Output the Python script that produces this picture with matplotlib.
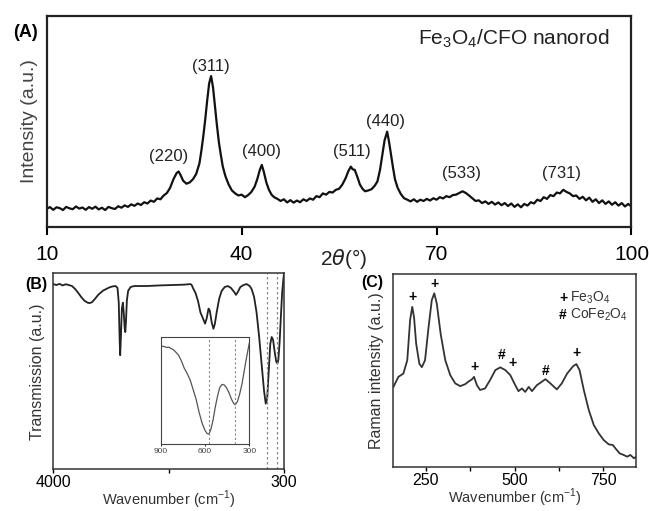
import numpy as np
import matplotlib
matplotlib.use("Agg")
import matplotlib.pyplot as plt

plt.rcParams["font.family"] = ["Liberation Sans", "DejaVu Sans"]
plt.rcParams["mathtext.fontset"] = "custom"
plt.rcParams["mathtext.rm"] = "Liberation Sans"
plt.rcParams["mathtext.it"] = "DejaVu Sans:italic"

# ---- (A) XRD pattern ----
xrd_2theta = [
    10.0, 10.5, 11.0, 11.5, 12.0, 12.5, 13.0, 13.5, 14.0, 14.5, 15.0, 15.5, 16.0, 16.5,
    17.0, 17.5, 18.0, 18.5, 19.0, 19.5, 20.0, 20.5, 21.0, 21.5, 22.0, 22.5, 23.0, 23.5,
    24.0, 24.5, 25.0, 25.5, 26.0, 26.5, 27.0, 27.5, 28.0, 28.5, 29.0, 29.5,
    30.0, 30.3, 30.6, 31.0, 31.5, 32.0, 32.5, 33.0, 33.5, 33.8, 34.1, 34.4, 34.7, 35.0,
    35.3, 35.6, 35.9, 36.2, 36.5, 36.8, 37.1, 37.5, 38.0, 38.5, 39.0, 39.5, 40.0, 40.5,
    41.0, 41.5, 42.0, 42.4, 42.8, 43.1, 43.4, 43.8, 44.2, 44.6, 45.0, 45.5, 46.0, 46.5,
    47.0, 47.5, 48.0, 48.5, 49.0, 49.5, 50.0, 50.5, 51.0, 51.5, 52.0, 52.5, 53.0, 53.5,
    54.0, 54.5, 55.0, 55.5, 56.0, 56.4, 56.8, 57.1, 57.4, 57.8, 58.2, 58.6, 59.0, 59.5,
    60.0, 60.5, 60.9, 61.3, 61.7, 62.0, 62.4, 62.7, 63.0, 63.3, 63.6, 64.0, 64.5, 65.0,
    65.5, 66.0, 66.5, 67.0, 67.5, 68.0, 68.5, 69.0, 69.5, 70.0, 70.5, 71.0, 71.5, 72.0,
    72.5, 73.0, 73.5, 74.0, 74.5, 75.0, 75.5, 76.0, 76.5, 77.0, 77.5, 78.0, 78.5, 79.0,
    79.5, 80.0, 80.5, 81.0, 81.5, 82.0, 82.5, 83.0, 83.5, 84.0, 84.5, 85.0, 85.5, 86.0,
    86.5, 87.0, 87.5, 88.0, 88.5, 89.0, 89.5, 90.0, 90.5, 91.0, 91.5, 92.0, 92.5, 93.0,
    93.5, 94.0, 94.5, 95.0, 95.5, 96.0, 96.5, 97.0, 97.5, 98.0, 98.5, 99.0, 99.5, 100.0,
]
xrd_intensity = [
    0.085, 0.093, 0.080, 0.092, 0.088, 0.079, 0.094, 0.087, 0.083, 0.096, 0.086, 0.091, 0.080, 0.093,
    0.085, 0.095, 0.082, 0.090, 0.079, 0.094, 0.088, 0.084, 0.097, 0.090, 0.101, 0.094, 0.106, 0.099,
    0.110, 0.103, 0.116, 0.110, 0.124, 0.118, 0.134, 0.130, 0.148, 0.160, 0.185, 0.225,
    0.255, 0.262, 0.245, 0.218, 0.204, 0.210, 0.225, 0.250, 0.300, 0.360, 0.430, 0.510, 0.600, 0.680,
    0.715, 0.660, 0.570, 0.480, 0.400, 0.340, 0.285, 0.240, 0.200, 0.172, 0.158, 0.148, 0.152, 0.140,
    0.150, 0.165, 0.190, 0.225, 0.270, 0.293, 0.262, 0.210, 0.175, 0.152, 0.140, 0.132, 0.122, 0.130,
    0.115, 0.126, 0.114, 0.124, 0.116, 0.130, 0.122, 0.134, 0.128, 0.145, 0.140, 0.158, 0.152, 0.165,
    0.162, 0.175, 0.180, 0.200, 0.230, 0.262, 0.285, 0.272, 0.270, 0.237, 0.200, 0.180, 0.168, 0.172,
    0.178, 0.195, 0.215, 0.270, 0.350, 0.410, 0.451, 0.400, 0.340, 0.280, 0.225, 0.185, 0.155, 0.135,
    0.128, 0.120, 0.130, 0.118, 0.128, 0.122, 0.132, 0.124, 0.135, 0.128, 0.140, 0.134, 0.145, 0.140,
    0.150, 0.152, 0.160, 0.168, 0.160, 0.148, 0.135, 0.122, 0.125, 0.112, 0.120, 0.108, 0.118, 0.105,
    0.115, 0.102, 0.112, 0.098, 0.110, 0.094, 0.106, 0.092, 0.108, 0.100, 0.116, 0.110, 0.128, 0.122,
    0.140, 0.132, 0.150, 0.145, 0.162, 0.158, 0.175, 0.165, 0.158, 0.145, 0.148, 0.132, 0.142, 0.125,
    0.138, 0.118, 0.130, 0.112, 0.125, 0.108, 0.120, 0.104, 0.116, 0.100, 0.112, 0.096, 0.108, 0.095,
]
hkl_labels = ["(220)", "(311)", "(400)", "(511)", "(440)", "(533)", "(731)"]
hkl_pos = [28.8, 35.3, 43.1, 56.9, 62.2, 73.9, 89.3]
hkl_height = [0.335, 0.762, 0.358, 0.358, 0.498, 0.254, 0.254]

# ---- (B) FTIR ----
ftir_wn = [
    4000, 3950, 3900, 3850, 3800, 3750, 3700, 3650, 3600, 3550, 3500, 3450, 3420, 3380,
    3330, 3280, 3200, 3100, 3050, 3000, 2970, 2950, 2935, 2927, 2915, 2900, 2884, 2870,
    2855, 2845, 2835, 2820, 2800, 2760, 2700, 2500, 2300, 2100, 1900, 1800, 1780, 1760,
    1720, 1680, 1640, 1600, 1566, 1540, 1510, 1490, 1460, 1432, 1410, 1380, 1340, 1300,
    1250, 1200, 1150, 1100, 1070, 1040, 1000, 950, 900, 850, 820, 780, 740, 700, 660,
    620, 593, 570, 545, 520, 497, 475, 450, 425, 405, 390, 370, 350, 330, 310, 300,
]
ftir_trans = [
    0.945, 0.940, 0.946, 0.938, 0.944, 0.940, 0.935, 0.920, 0.900, 0.878, 0.860, 0.850, 0.848, 0.852,
    0.870, 0.890, 0.912, 0.928, 0.933, 0.935, 0.925, 0.850, 0.650, 0.582, 0.680, 0.820, 0.850, 0.800,
    0.720, 0.700, 0.750, 0.860, 0.910, 0.930, 0.935, 0.935, 0.938, 0.940, 0.942, 0.945, 0.940, 0.925,
    0.900, 0.860, 0.800, 0.770, 0.743, 0.770, 0.820, 0.810, 0.750, 0.717, 0.740, 0.800, 0.870, 0.910,
    0.930, 0.935, 0.925, 0.905, 0.890, 0.905, 0.930, 0.940, 0.945, 0.935, 0.920, 0.880, 0.800, 0.680, 0.540,
    0.400, 0.335, 0.360, 0.500, 0.640, 0.675, 0.660, 0.600, 0.550, 0.540, 0.560, 0.650, 0.780, 0.900, 0.970, 1.000,
]
ftir_marks = [573, 412]

inset_wn = [
    900, 880, 860, 845, 830, 815, 800, 780, 760, 740, 720, 700, 680, 660, 640, 620, 600, 585,
    573, 560, 545, 530, 515, 500, 485, 470, 455, 440, 420, 405, 395, 380, 365, 350, 335, 320,
    305, 300,
]
inset_trans = [
    0.919, 0.915, 0.905, 0.908, 0.895, 0.885, 0.865, 0.835, 0.780, 0.710, 0.660, 0.600, 0.510, 0.420,
    0.300, 0.200, 0.130, 0.100, 0.096, 0.140, 0.230, 0.350, 0.450, 0.530, 0.560, 0.555, 0.530, 0.490,
    0.420, 0.380, 0.370, 0.400, 0.470, 0.560, 0.680, 0.800, 0.910, 0.944,
]
inset_marks = [575, 395]

# ---- (C) Raman ----
raman_wn = [
    159, 173, 187, 198, 206, 212, 217, 223, 232, 239, 248, 258, 267, 274, 281, 292, 305, 319,
    333, 347, 361, 370, 380, 386, 394, 403, 417, 431, 446, 460, 474, 488, 502, 511, 521, 530,
    540, 549, 563, 577, 587, 601, 619, 633, 648, 665, 674, 683, 695, 709, 723, 737, 751, 765,
    777, 784, 796, 807, 817, 826, 836, 843,
]
raman_int = [
    0.416, 0.468, 0.485, 0.554, 0.762, 0.830, 0.777, 0.640, 0.536, 0.518, 0.554, 0.726, 0.865, 0.900,
    0.848, 0.690, 0.554, 0.477, 0.434, 0.420, 0.430, 0.443, 0.455, 0.468, 0.425, 0.400, 0.408, 0.451,
    0.503, 0.517, 0.503, 0.477, 0.425, 0.394, 0.408, 0.390, 0.416, 0.394, 0.425, 0.443, 0.456, 0.434,
    0.403, 0.434, 0.485, 0.523, 0.534, 0.503, 0.400, 0.296, 0.219, 0.176, 0.141, 0.119, 0.115, 0.098,
    0.072, 0.064, 0.055, 0.064, 0.047, 0.055,
]
raman_mark_sym = ["+", "+", "+", "#", "+", "#", "+"]
raman_mark_x = [212, 274, 386, 463, 494, 588, 674]
raman_mark_y = [0.88, 0.95, 0.52, 0.58, 0.54, 0.50, 0.59]

fig = plt.figure(figsize=(6.49, 5.11), dpi=100)
line_col = "#111111"

# (A)
axA = fig.add_axes([0.072, 0.5564, 0.901, 0.4123])
axA.plot(xrd_2theta, xrd_intensity, color=line_col, lw=1.6)
axA.set_xlim(10, 100)
axA.set_ylim(0, 1)
axA.set_xticks([10, 40, 70, 100])
axA.set_yticks([])
axA.tick_params(axis="x", direction="out", length=6, width=1.5, labelsize=15, pad=7)
for s in axA.spines.values():
    s.set_linewidth(1.6)
    s.set_color("#222222")
for lab, xp, yp in zip(hkl_labels, hkl_pos, hkl_height):
    axA.text(xp, yp, lab, ha="center", va="center", fontsize=12, color="#222222")
axA.text(0.962, 0.89, r"Fe$_3$O$_4$/CFO nanorod", transform=axA.transAxes,
         ha="right", va="center", fontsize=15, color="#222222")
axA.text(0.508, -0.155, r"2$\theta$(°)", transform=axA.transAxes,
         ha="center", va="center", fontsize=15, color="#222222")
axA.set_ylabel("Intensity (a.u.)", fontsize=14, color="#444444", labelpad=6)
fig.text(0.040, 0.937, "(A)", fontsize=13, fontweight="bold", ha="center", va="center")

# (B)
axB = fig.add_axes([0.0821, 0.0816, 0.3555, 0.3836])
axB.plot(ftir_wn, ftir_trans, color="#222222", lw=1.3)
for m in ftir_marks:
    axB.axvline(m, color="#888888", lw=0.9, ls=(0, (2, 2)))
axB.set_xlim(4000, 300)
axB.set_ylim(0, 1.0)
axB.set_xticks([4000, 300])
axB.set_xticks([2150], minor=True)
axB.set_yticks([])
axB.tick_params(axis="x", which="both", direction="out", length=3, width=1, labelsize=11.5, pad=1)
for s in axB.spines.values():
    s.set_linewidth(1.1)
    s.set_color("#333333")
axB.set_xlabel("Wavenumber (cm$^{-1}$)", fontsize=10.5, color="#333333", labelpad=-1)
axB.set_ylabel("Transmission (a.u.)", fontsize=11.5, color="#333333", labelpad=6)
fig.text(0.056, 0.444, "(B)", fontsize=11.5, fontweight="bold", ha="center", va="center")

axI = fig.add_axes([0.2476, 0.1305, 0.1365, 0.2094])
axI.plot(inset_wn, inset_trans, color="#555555", lw=0.9)
for m in inset_marks:
    axI.axvline(m, color="#888888", lw=0.8, ls=(0, (2, 2)))
axI.set_xlim(900, 300)
axI.set_ylim(0, 1)
axI.set_xticks([900, 600, 300])
axI.set_yticks([])
axI.tick_params(axis="x", direction="out", length=1.5, width=0.6, labelsize=6, pad=1.5,
                labelcolor="#444444")
for s in axI.spines.values():
    s.set_linewidth(0.8)
    s.set_color("#444444")

# (C)
axC = fig.add_axes([0.6051, 0.0855, 0.3749, 0.3783])
axC.plot(raman_wn, raman_int, color="#333333", lw=1.3)
axC.set_xlim(157, 842)
axC.set_ylim(0, 1)
axC.set_xticks([250, 500, 750])
axC.set_xticks([375, 625], minor=True)
axC.set_yticks([])
axC.tick_params(axis="x", which="both", direction="out", length=3, width=1, labelsize=11.5, pad=1)
for s in axC.spines.values():
    s.set_linewidth(1.1)
    s.set_color("#333333")
for sym, xp, yp in zip(raman_mark_sym, raman_mark_x, raman_mark_y):
    axC.text(xp, yp, sym, ha="center", va="center", fontsize=10, fontweight="bold")
axC.text(0.70, 0.875, "+", transform=axC.transAxes, ha="center", va="center",
         fontsize=10, fontweight="bold")
axC.text(0.73, 0.875, r"Fe$_3$O$_4$", transform=axC.transAxes, ha="left", va="center",
         fontsize=10, color="#333333")
axC.text(0.70, 0.79, "#", transform=axC.transAxes, ha="center", va="center",
         fontsize=10, fontweight="bold")
axC.text(0.73, 0.79, r"CoFe$_2$O$_4$", transform=axC.transAxes, ha="left", va="center",
         fontsize=10, color="#333333")
axC.set_xlabel("Wavenumber (cm$^{-1}$)", fontsize=10.5, color="#333333", labelpad=-1)
axC.set_ylabel("Raman intensity (a.u.)", fontsize=11.5, color="#333333", labelpad=6)
fig.text(0.573, 0.448, "(C)", fontsize=11.5, fontweight="bold", ha="center", va="center")

fig.savefig("out.png", dpi=100)
